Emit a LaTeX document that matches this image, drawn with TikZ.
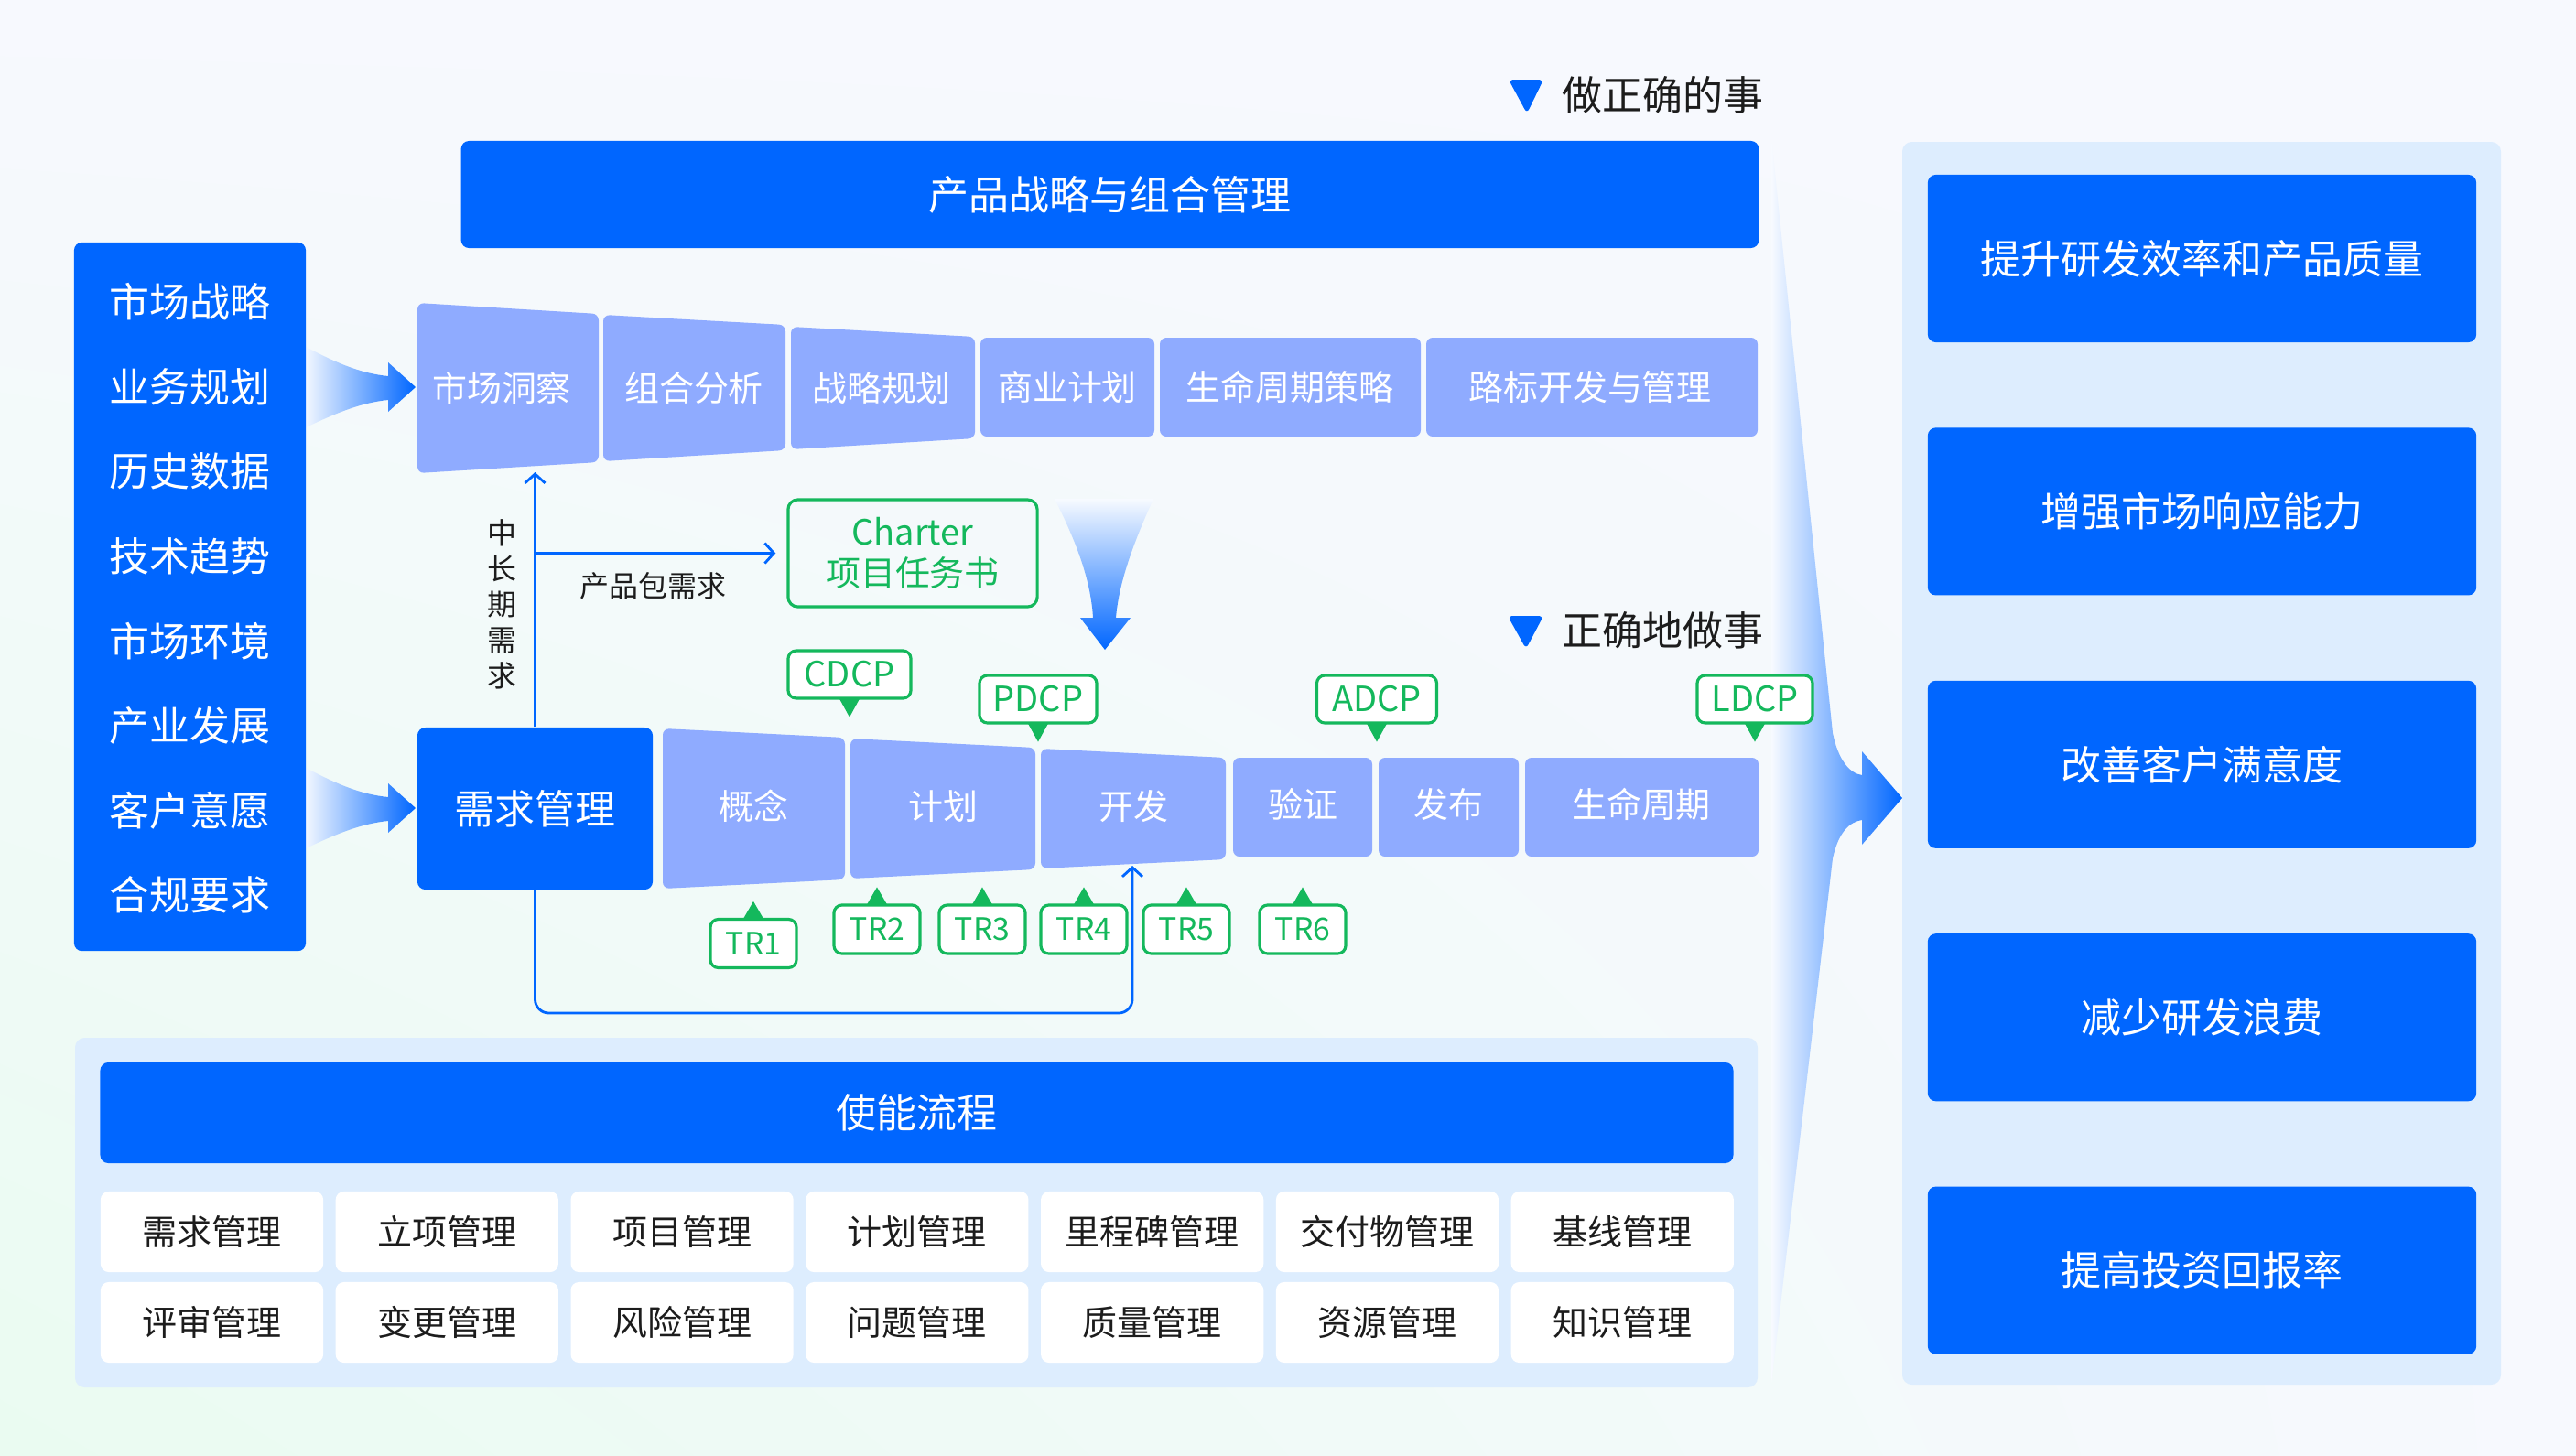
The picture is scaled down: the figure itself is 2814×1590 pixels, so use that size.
\documentclass[tikz,border=0pt]{standalone}
\usepackage{fontspec}
\setmainfont{Noto Sans CJK SC}
\usetikzlibrary{arrows.meta,calc,positioning,shadings}
\definecolor{ipdblue}{HTML}{0066FF}
\definecolor{stagecol}{HTML}{8FABFF}
\definecolor{gategreen}{HTML}{14B85C}
\definecolor{panelcol}{HTML}{DDEDFE}
\definecolor{pagecol}{HTML}{F7F9FE}
\definecolor{greenish}{HTML}{EAFBF1}
\definecolor{inkcol}{HTML}{1C1C1C}
\newcommand{\ipdbig}{\fontsize{12.5pt}{15pt}\selectfont}
\newcommand{\ipdmid}{\fontsize{10.8pt}{12.6pt}\selectfont}
\newcommand{\ipdsmall}{\fontsize{9.1pt}{11.1pt}\selectfont}
\newcommand{\ipdtr}{\fontsize{9.6pt}{11pt}\selectfont}
\tikzstyle{bluebox} = [fill=ipdblue, text=white, rounded corners=2.5pt, font=\ipdbig, inner sep=0pt]
\tikzstyle{goalbox} = [bluebox, minimum width=5.99cm, minimum height=1.83cm]
\tikzstyle{stage} = [fill=stagecol, rounded corners=2pt]
\tikzstyle{stagetext} = [text=white, font=\ipdmid]
\tikzstyle{gate} = [draw=gategreen, line width=0.9pt, fill=white, rounded corners=2.5pt, text=gategreen, font=\ipdmid, minimum height=0.52cm, inner sep=0pt]
\tikzstyle{trgate} = [gate, font=\ipdtr, minimum width=0.94cm, minimum height=0.53cm]
\tikzstyle{flow} = [draw=ipdblue, line width=0.8pt]
\tikzstyle{enabler} = [fill=white, rounded corners=2.5pt, text=inkcol, font=\ipdmid, minimum width=2.43cm, minimum height=0.88cm]
\newcommand{\pindown}[1]{\fill[gategreen] ($(#1.south)+(-11,-1)$) -- ($(#1.south)+(0,19)$) -- ($(#1.south)+(11,-1)$) -- cycle;}
\newcommand{\pinup}[1]{\fill[gategreen] ($(#1.north)+(-11,1)$) -- ($(#1.north)+(0,-18)$) -- ($(#1.north)+(11,1)$) -- cycle;}

\begin{document}
\begin{tikzpicture}[x=0.01cm, y=-0.01cm, >={Straight Barb[length=1mm,width=2.2mm]}]

\useasboundingbox (0,0) rectangle (2814,1590);
\shade[upper left=pagecol, upper right=pagecol, lower left=greenish, lower right=pagecol] (0,0) rectangle (2814,1590);

% gradient arrows
\foreach \dy in {0,460}
  \shade[left color=ipdblue!5, right color=ipdblue, shift={(0,\dy)}]
    (334,379) .. controls (370,398) and (395,408) .. (424,411) -- (424,396) -- (454,423)
    -- (424,450) -- (424,437) .. controls (395,440) and (370,450) .. (334,467) -- cycle;
\shade[top color=ipdblue!3, bottom color=ipdblue]
  (1152,545) .. controls (1180,600) and (1192,640) .. (1194,675) -- (1180,675) -- (1207,710)
  -- (1235,675) -- (1219,675) .. controls (1222,640) and (1235,600) .. (1260,545) -- cycle;
\shade[left color=ipdblue!3, middle color=ipdblue!28, right color=ipdblue]
  (1935,150) -- (2002,801) .. controls (2008,830) and (2020,845) .. (2034,847) -- (2034,821)
  -- (2078,872) -- (2034,923) -- (2034,896) .. controls (2020,898) and (2008,910) .. (2002,938)
  -- (1935,1512) -- cycle;

% panels
\fill[panelcol, rounded corners=3pt] (2078,155) rectangle (2732,1513);
\fill[panelcol, rounded corners=3pt] (82,1134) rectangle (1920,1516);

% drivers
\node [bluebox, minimum width=2.53cm, minimum height=7.74cm] (drivers) at (207.5,652) {};
\foreach \txt [count=\i from 0] in {市场战略,业务规划,历史数据,技术趋势,市场环境,产业发展,客户意愿,合规要求}
  \node [text=white, font=\ipdbig] (drv\i) at (207.5,{330+92.6*\i}) {\txt};

% strategy
\fill[ipdblue, rounded corners=1.5pt] (1648,87) -- (1686,87) -- (1668,124) -- cycle;
\node [anchor=west, font=\ipdbig, text=inkcol, inner sep=0pt] (rightthing) at (1706,104) {做正确的事};
\node [bluebox, minimum width=14.17cm, minimum height=1.17cm] (strategy) at (1212.5,212.5) {产品战略与组合管理};

\fill[stage] (456,331) -- (654,343) -- (654,505) -- (456,517) -- cycle;
\fill[stage] (659,344) -- (858,355) -- (858,492) -- (659,504) -- cycle;
\fill[stage] (864,357) -- (1065,368) -- (1065,479) -- (864,491) -- cycle;
\fill[stage] (1071,369) rectangle (1261,477);
\fill[stage] (1267,369) rectangle (1552,477);
\fill[stage] (1558,369) rectangle (1920,477);
\node [stagetext] (insight) at (548,424) {市场洞察};
\node [stagetext] (portfolio) at (758,424) {组合分析};
\node [stagetext] (planning) at (963,424) {战略规划};
\node [stagetext] (business) at (1166,423) {商业计划};
\node [stagetext] (lifestrat) at (1409,423) {生命周期策略};
\node [stagetext] (roadmap) at (1737,423) {路标开发与管理};

% charter
\node [draw=gategreen, line width=0.9pt, rounded corners=3pt, minimum width=2.72cm, minimum height=1.17cm,
  align=center, text=gategreen, font=\ipdmid] (charter) at (997,604.5) {Charter\\项目任务书};

% execution
\fill[ipdblue, rounded corners=1.5pt] (1647,673) -- (1686,673) -- (1667,709) -- cycle;
\node [anchor=west, font=\ipdbig, text=inkcol, inner sep=0pt] (rightway) at (1706,689) {正确地做事};

\node [bluebox, minimum width=2.57cm, minimum height=1.77cm] (reqmgmt) at (584.5,883.5) {需求管理};
\fill[stage] (724,796) -- (923,806) -- (923,961) -- (724,971) -- cycle;
\fill[stage] (929,807) -- (1131,817) -- (1131,950) -- (929,960) -- cycle;
\fill[stage] (1137,818) -- (1339,828) -- (1339,939) -- (1137,949) -- cycle;
\fill[stage] (1347,828) rectangle (1499,936);
\fill[stage] (1506,828) rectangle (1659,936);
\fill[stage] (1666,828) rectangle (1921,936);
\node [stagetext] (concept) at (823,881) {概念};
\node [stagetext] (plan) at (1030,881) {计划};
\node [stagetext] (develop) at (1238,881) {开发};
\node [stagetext] (verify) at (1423,879) {验证};
\node [stagetext] (release) at (1582,879) {发布};
\node [stagetext] (lifecycle) at (1793,879) {生命周期};

% decision points
\node [gate, minimum width=1.34cm] (cdcp) at (928,737) {CDCP};
\node [gate, minimum width=1.28cm] (pdcp) at (1134,764) {PDCP};
\node [gate, minimum width=1.31cm] (adcp) at (1504,764) {ADCP};
\node [gate, minimum width=1.26cm] (ldcp) at (1917,764) {LDCP};
\foreach \g in {cdcp,pdcp,adcp,ldcp} {\pindown{\g}}

% technical reviews
\node [trgate] (tr1) at (823,1031) {TR1};
\node [trgate] (tr2) at (958,1015.5) {TR2};
\node [trgate] (tr3) at (1073,1015.5) {TR3};
\node [trgate] (tr4) at (1184,1015.5) {TR4};
\node [trgate] (tr5) at (1296,1015.5) {TR5};
\node [trgate] (tr6) at (1423,1015.5) {TR6};
\foreach \g in {tr1,tr2,tr3,tr4,tr5,tr6} {\pinup{\g}}

% requirement flow
\coordinate (insight-in) at (584.5,516);
\coordinate (develop-in) at (1237,946);
\draw [flow, ->] (reqmgmt.north) -- (insight-in);
\draw [flow, ->, shorten >=1.2mm] (reqmgmt.north |- charter.west) -- node [below=0.8mm, pos=0.47, font=\ipdsmall, text=inkcol] (pkgreq) {产品包需求} (charter.west);
\node [font=\ipdsmall, text=inkcol, align=center] (longterm) at (548,660) {中\\长\\期\\需\\求};
\draw [flow, rounded corners=1.5mm, ->] (reqmgmt.south) |- ($(develop-in)+(0,161)$) -- (develop-in);

% goals
\node [goalbox] (goal1) at (2405.5,282.5) {提升研发效率和产品质量};
\node [goalbox, below of=goal1, node distance=2.7625cm] (goal2) {增强市场响应能力};
\node [goalbox, below of=goal2, node distance=2.7625cm] (goal3) {改善客户满意度};
\node [goalbox, below of=goal3, node distance=2.7625cm] (goal4) {减少研发浪费};
\node [goalbox, below of=goal4, node distance=2.7625cm] (goal5) {提高投资回报率};

% enabling processes
\node [bluebox, minimum width=17.83cm, minimum height=1.10cm] (enabling) at (1001.5,1216) {使能流程};
\foreach \txt [count=\i from 0] in {需求管理,立项管理,项目管理,计划管理,里程碑管理,交付物管理,基线管理}
  \node [enabler] (ena\i) at ({231.5+256.8*\i},1346) {\txt};
\foreach \txt [count=\i from 0] in {评审管理,变更管理,风险管理,问题管理,质量管理,资源管理,知识管理}
  \node [enabler] (enb\i) at ({231.5+256.8*\i},1445) {\txt};

\end{tikzpicture}
\end{document}
